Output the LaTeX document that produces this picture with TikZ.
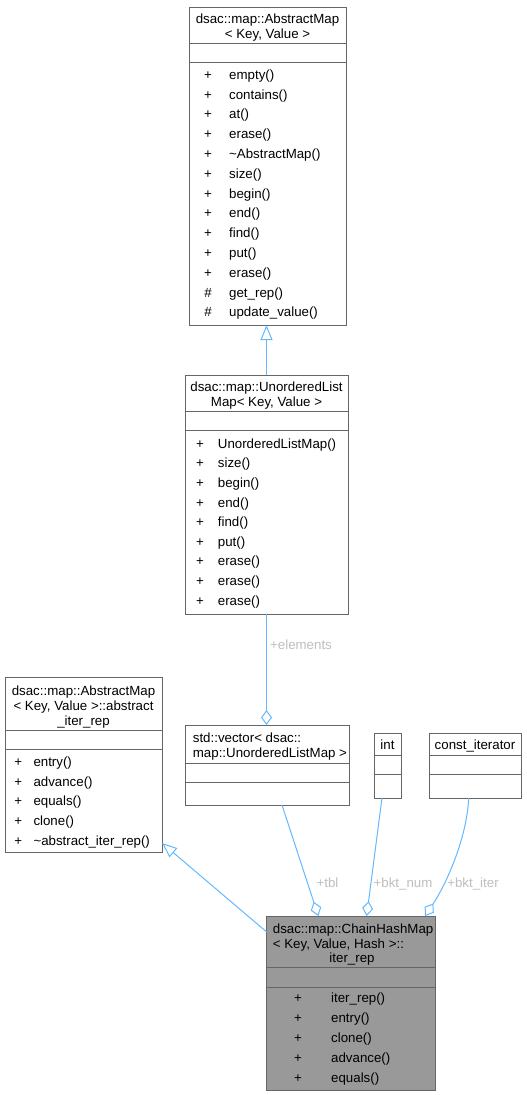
\documentclass[tikz,border=0pt]{standalone}
\usepackage{fontspec}
\setmainfont{Liberation Sans}
\usetikzlibrary{arrows.meta,calc}
\definecolor{boxgray}{HTML}{666666}
\definecolor{mainfill}{HTML}{999999}
\definecolor{edgeblue}{HTML}{63B8FF}
\definecolor{lblgray}{HTML}{BEBEBE}
\begin{document}
\begin{tikzpicture}[x=1pt,y=-1pt,
 umlbox/.style={draw=boxgray, fill=white, line width=1pt, inner sep=0pt, outer sep=0pt, anchor=north west},
 txt/.style={font=\fontsize{13.3}{15}\selectfont, inner sep=0pt, text height=9.5pt, text depth=2.8pt},
 mem/.style={txt, anchor=west},
 lbl/.style={txt, text=lblgray},
 sepline/.style={draw=boxgray, line width=1pt},
 edgeline/.style={draw=edgeblue, line width=1pt},
 inh/.style={edgeline, -{Triangle[open, length=15pt, width=12pt]}},
 comp/.style={edgeline, -{Diamond[open, length=15pt, width=11pt]}},
]
\useasboundingbox (0,0) rectangle (527,1095);

% ---------- dsac::map::AbstractMap ----------
\node[umlbox, minimum width=157pt, minimum height=318pt] (am) at (189,7) {};
\draw[sepline] (189,43) -- (346,43);
\draw[sepline] (189,62) -- (346,62);
\node[txt] (am-t1) at (267.5,20.5) {dsac::map::AbstractMap};
\node[txt] (am-t2) at (267.5,35.5) {< Key, Value >};
\foreach \nm [count=\i] in {empty(), contains(), at(), erase(), \textasciitilde AbstractMap(), size(), begin(), end(), find(), put(), erase()} {
  \node[txt] (am-p\i) at (208,{76+19.8*(\i-1)}) {+};
  \node[mem] (am-m\i) at (229,{76+19.8*(\i-1)}) {\nm};
}
\node[txt] (am-p12) at (208,{76+19.8*11}) {\#};
\node[mem] (am-m12) at (229,{76+19.8*11}) {get\_rep()};
\node[txt] (am-p13) at (208,{76+19.8*12}) {\#};
\node[mem] (am-m13) at (229,{76+19.8*12}) {update\_value()};

% ---------- dsac::map::UnorderedListMap ----------
\node[umlbox, minimum width=163pt, minimum height=239pt] (ulm) at (185,375) {};
\draw[sepline] (185,411) -- (348,411);
\draw[sepline] (185,430) -- (348,430);
\node[txt] (ulm-t1) at (266.5,388.5) {dsac::map::UnorderedList};
\node[txt] (ulm-t2) at (266.5,403.5) {Map< Key, Value >};
\foreach \nm [count=\i] in {UnorderedListMap(), size(), begin(), end(), find(), put(), erase(), erase(), erase()} {
  \node[txt] (ulm-p\i) at (200,{445+19.6*(\i-1)}) {+};
  \node[mem] (ulm-m\i) at (217.7,{445+19.6*(\i-1)}) {\nm};
}

% ---------- abstract_iter_rep ----------
\node[umlbox, minimum width=157pt, minimum height=175pt] (air) at (5,677) {};
\draw[sepline] (5,730) -- (162,730);
\draw[sepline] (5,749) -- (162,749);
\node[txt] (air-t1) at (83.5,692) {dsac::map::AbstractMap};
\node[txt] (air-t2) at (83.5,707) {< Key, Value >::abstract};
\node[txt] (air-t3) at (83.5,722) {\_iter\_rep};
\foreach \nm [count=\i] in {entry(), advance(), equals(), clone(), \textasciitilde abstract\_iter\_rep()} {
  \node[txt] (air-p\i) at (18.3,{763+19.7*(\i-1)}) {+};
  \node[mem] (air-m\i) at (33.3,{763+19.7*(\i-1)}) {\nm};
}

% ---------- std::vector ----------
\node[umlbox, minimum width=164pt, minimum height=80pt] (vec) at (185,725) {};
\draw[sepline] (185,763) -- (349,763);
\draw[sepline] (185,782) -- (349,782);
\node[mem] (vec-t1) at (192.7,739) {std::vector< dsac::};
\node[mem] (vec-t2) at (192.7,754) {map::UnorderedListMap >};

% ---------- int ----------
\node[umlbox, minimum width=27pt, minimum height=65pt] (int) at (374,733) {};
\draw[sepline] (374,755) -- (401,755);
\draw[sepline] (374,774) -- (401,774);
\node[txt] (int-t1) at (387.5,746) {int};

% ---------- const_iterator ----------
\node[umlbox, minimum width=92pt, minimum height=65pt] (ci) at (429,733) {};
\draw[sepline] (429,755) -- (521,755);
\draw[sepline] (429,774) -- (521,774);
\node[txt] (ci-t1) at (475,746) {const\_iterator};

% ---------- ChainHashMap::iter_rep ----------
\node[umlbox, fill=mainfill, minimum width=168.3pt, minimum height=174pt] (chm) at (266.7,916) {};
\draw[sepline] (266.7,967) -- (435,967);
\draw[sepline] (266.7,987) -- (435,987);
\node[mem] (chm-t1) at (272.7,930) {dsac::map::ChainHashMap};
\node[mem] (chm-t2) at (272.7,945) {< Key, Value, Hash >::};
\node[txt] (chm-t3) at (352,959) {iter\_rep};
\foreach \nm [count=\i] in {iter\_rep(), entry(), clone(), advance(), equals()} {
  \node[txt] (chm-p\i) at (298,{999.5+20*(\i-1)}) {+};
  \node[mem] (chm-m\i) at (331,{999.5+20*(\i-1)}) {\nm};
}

% ---------- connectors ----------
\draw[inh] (ulm.north) -- (ulm.north |- am.south);
\draw[comp] (ulm.south) -- (ulm.south |- vec.north);
\node[lbl] (lbl-el) at (301,646.5) {+elements};

\draw[inh] ([yshift=-16pt]chm.north west) -- ([yshift=9pt]air.south east);

\draw[comp] ([xshift=15pt]vec.south) -- ([xshift=-32.5pt]chm.north);
\node[lbl] (lbl-tbl) at (327.5,884.5) {+tbl};

\draw[comp] ([xshift=-5.5pt]int.south) -- ([xshift=15.8pt]chm.north);
\node[lbl] (lbl-num) at (403,884.5) {+bkt\_num};

\draw[comp] ([xshift=-6.3pt]ci.south) .. controls +(-2,42) and +(20,-30) .. ([xshift=74.2pt]chm.north);
\node[lbl] (lbl-iter) at (473,884.5) {+bkt\_iter};
\end{tikzpicture}
\end{document}
